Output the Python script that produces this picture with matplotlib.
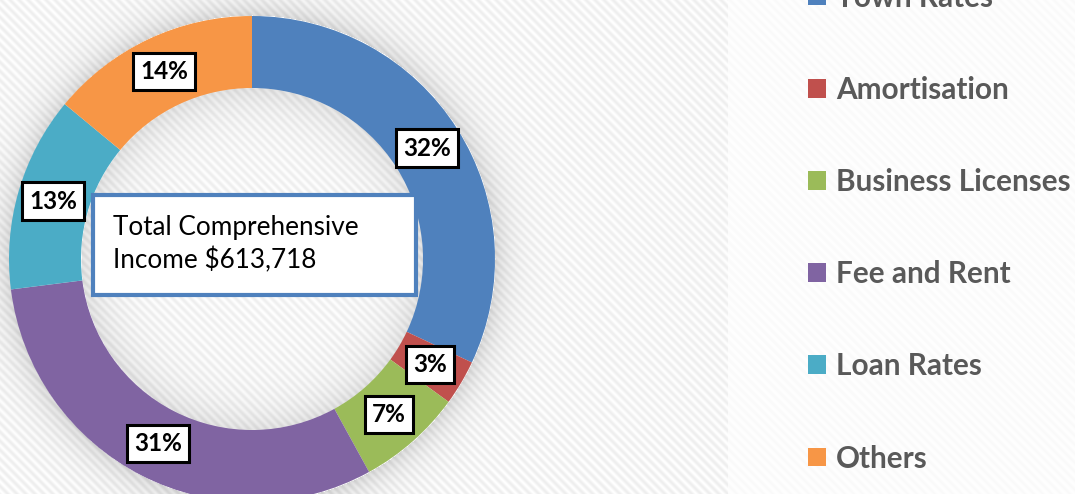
import numpy as np
import matplotlib
matplotlib.use("Agg")
import matplotlib.pyplot as plt
from matplotlib.patches import Rectangle

# Income composition
categories = ["Town Rates", "Amortisation", "Business Licenses",
              "Fee and Rent", "Loan Rates", "Others"]
shares = [32, 3, 7, 31, 13, 14]
colors = ["#4F81BD", "#C0504D", "#9BBB59", "#8064A2", "#4BACC6", "#F79646"]
center_note = "Total Comprehensive\nIncome $613,718"

W, H = 1075, 494
plt.rcParams["font.family"] = ["Lato", "DejaVu Sans"]

fig = plt.figure(figsize=(W / 100, H / 100), dpi=100)
ax = fig.add_axes([0, 0, 1, 1])

cx, cy = 252, H - 259          # donut centre (axes units = pixels, y up)
r_out, ring = 243, 72
r_in = r_out - ring

# striped backdrop with a soft glow around the ring
yy, xx = np.mgrid[0:H, 0:W]
stripe = 0.5 + 0.5 * np.cos(2 * np.pi * (xx - yy) / 9.0)
bg = np.where(xx < 728, 1 - 0.065 * stripe, 1 - 0.02 * stripe)
rr = np.hypot(xx - cx, yy - 259)
d_out = np.clip(rr - r_out, 0, None)
d_in = np.clip(r_in - rr, 0, None)
glow = np.where(rr > r_out, 0.13 * np.exp(-d_out / 16.0), 0.0)
glow += np.where(rr < r_in, 0.10 * np.exp(-d_in / 22.0), 0.0)
bg = np.clip(bg - glow, 0, 1)
ax.imshow(np.dstack([bg, bg, bg]), extent=(0, W, 0, H), zorder=0,
          interpolation="bilinear")

wedges, _, pct_texts = ax.pie(
    shares, colors=colors, startangle=90, counterclock=False,
    center=(cx, cy), radius=r_out,
    wedgeprops=dict(width=ring, linewidth=0),
    autopct=lambda p: f"{p:.0f}%", pctdistance=0.852,
)
for w in wedges:
    w.set_zorder(2)

for t in pct_texts:
    t.set(fontsize=17.5, fontweight="bold", color="black", zorder=5,
          ha="center", va="center")
    t.set_bbox(dict(boxstyle="square,pad=0.3", facecolor="white",
                    edgecolor="black", linewidth=2.2))

# centre note box
ax.add_patch(Rectangle((93, H - 295), 323, 100, facecolor="white",
                       edgecolor="#4F81BD", linewidth=3.0, zorder=4))
ax.text(113, H - 244, center_note, fontsize=18.8, color="black",
        ha="left", va="center", linespacing=1.32, zorder=5)

ax.set_xlim(0, W)
ax.set_ylim(0, H)
ax.set_aspect("equal")
ax.axis("off")

leg = fig.legend(wedges, categories, loc="center left",
                 bbox_to_anchor=(808 / W, (H - 228) / H),
                 frameon=False, prop=dict(size=21.4, weight="bold"),
                 handlelength=0.6, handleheight=0.6, handletextpad=0.34,
                 labelspacing=2.16, borderpad=0, borderaxespad=0)
for txt in leg.get_texts():
    txt.set_color("#595959")

fig.savefig("out.png", dpi=100)
